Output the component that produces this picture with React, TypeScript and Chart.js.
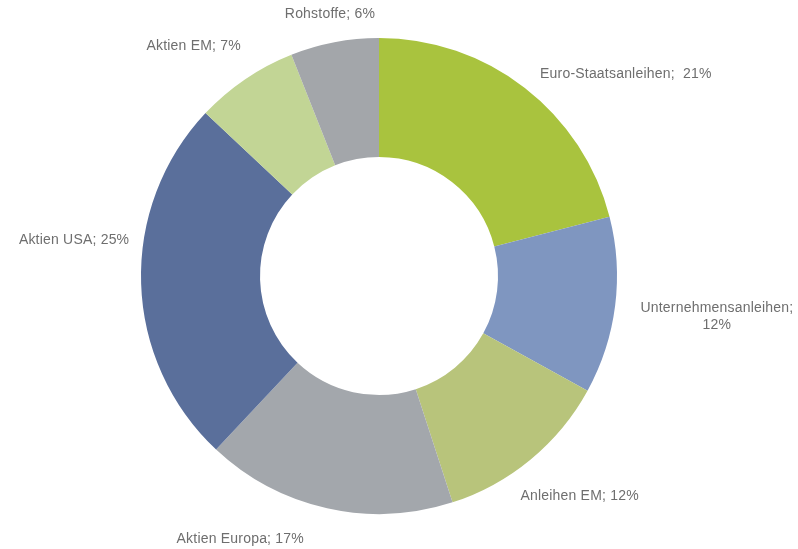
import React, { useEffect, useRef } from "react";
import { Chart, registerables } from "chart.js";

Chart.register(...registerables);

const categories = [
  "Euro-Staatsanleihen",
  "Unternehmensanleihen",
  "Anleihen EM",
  "Aktien Europa",
  "Aktien USA",
  "Aktien EM",
  "Rohstoffe",
];
const shares = [21, 12, 12, 17, 25, 7, 6];
const colors = ["#a9c33e", "#7f96c0", "#b8c47b", "#a3a7ac", "#5a6f9b", "#c2d595", "#a3a6aa"];

// label placement: angle (deg, clockwise from top) and distance as multiple of outer radius
const labelAngles = [50.7, 96.9, 137.6, 207.8, 276.7, 321.1, 349.4];
const labelDist = [1.34, 1.43, 1.25, 1.25, 1.29, 1.24, 1.12];
const labelLines = [
  ["Euro-Staatsanleihen;  21%"],
  ["Unternehmensanleihen;", "12%"],
  ["Anleihen EM; 12%"],
  ["Aktien Europa; 17%"],
  ["Aktien USA; 25%"],
  ["Aktien EM; 7%"],
  ["Rohstoffe; 6%"],
];

const labelPlugin = {
  id: "outerLabels",
  afterDatasetsDraw(chart: any) {
    const meta = chart.getDatasetMeta(0);
    const ctx = chart.ctx;
    ctx.save();
    ctx.font = "14px 'Liberation Sans', Arial, sans-serif";
    (ctx as any).letterSpacing = "0.2px";
    ctx.fillStyle = "#6e6e6e";
    ctx.textAlign = "center";
    ctx.textBaseline = "middle";
    meta.data.forEach((arc: any, i: number) => {
      const { x, y, outerRadius } = arc.getProps(["x", "y", "outerRadius"], true);
      const a = (labelAngles[i] * Math.PI) / 180;
      const r = outerRadius * labelDist[i];
      const cx = x + Math.sin(a) * r;
      const cy = y - Math.cos(a) * r;
      const lines = labelLines[i];
      const lh = 17;
      lines.forEach((t, k) => {
        ctx.fillText(t, cx, cy + (k - (lines.length - 1) / 2) * lh);
      });
    });
    ctx.restore();
  },
};

export default function App() {
  const ref = useRef<HTMLCanvasElement>(null);
  useEffect(() => {
    if (!ref.current) return;
    const chart = new Chart(ref.current, {
      type: "doughnut",
      data: {
        labels: categories,
        datasets: [
          {
            data: shares,
            backgroundColor: colors,
            borderWidth: 0,
          },
        ],
      },
      options: {
        animation: false,
        responsive: false,
        cutout: "50%",
        layout: { padding: { top: 38, bottom: 35, left: 141, right: 181 } },
        plugins: {
          legend: { display: false },
          tooltip: { enabled: false },
        },
      },
      plugins: [labelPlugin],
    });
    return () => chart.destroy();
  }, []);
  return (
    <div style={{ position: "absolute", left: 0, top: 0, width: 798, height: 549, background: "#ffffff" }}>
      <canvas ref={ref} width={798} height={549} />
    </div>
  );
}
